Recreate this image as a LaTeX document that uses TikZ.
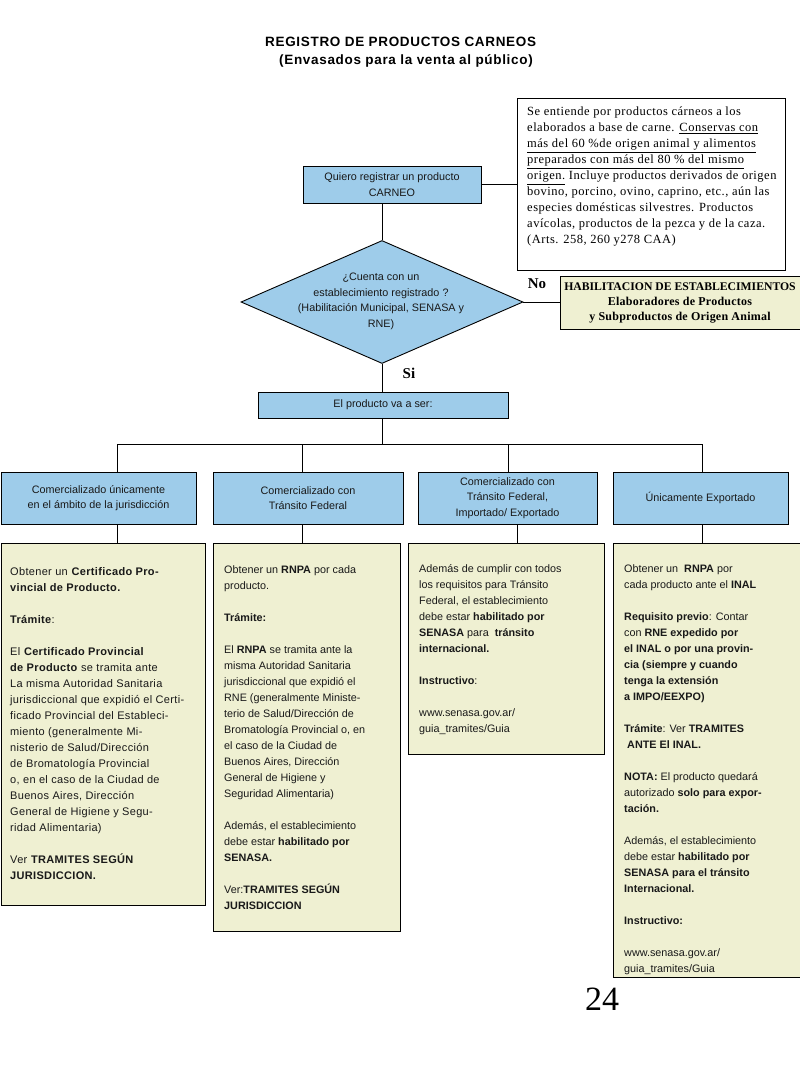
\documentclass[tikz,border=0pt]{standalone}
\usepackage{fontspec}
\setmainfont{Liberation Sans}
\newfontfamily\titlefont{Liberation Sans}[LetterSpace=5]
\newfontfamily\widesans{Liberation Sans}[LetterSpace=3]
\newfontfamily\notefont{Liberation Serif}[LetterSpace=4]
\newfontfamily\habfont{Liberation Serif}[LetterSpace=2]
\newfontfamily\serifb{Liberation Serif}
\usetikzlibrary{shapes.geometric}
\definecolor{boxblue}{RGB}{158,204,234}
\definecolor{boxyellow}{RGB}{239,240,210}
\definecolor{ink}{RGB}{25,25,25}
\begin{document}
\begin{tikzpicture}[x=1pt,y=-1pt,
  line/.style={draw=black, line width=0.9pt},
  bluebox/.style={draw=black, line width=0.9pt, fill=boxblue, inner sep=0pt, align=center, text=ink, font=\fontsize{10.8}{15.5}\selectfont},
  yelbox/.style={draw=black, line width=0.9pt, fill=boxyellow, inner sep=0pt, anchor=north west},
  ytext/.style={anchor=north west, inner sep=0pt, align=left, text=ink, font=\fontsize{10.8}{16}\selectfont},
  lbl/.style={inner sep=0pt, font=\serifb\bfseries\fontsize{15}{15}\selectfont},
]
\useasboundingbox (0,0) rectangle (800,1066);

% title
\node[anchor=north west, inner sep=0pt, align=left, font=\titlefont\fontsize{13.5}{18}\selectfont\bfseries] (title) at (265,37)
  {REGISTRO DE PRODUCTOS CARNEOS\\\hspace*{14pt}(Envasados para la venta al público)};

% note box
\node[draw=black, line width=0.9pt, fill=white, minimum width=268pt, minimum height=172pt, inner sep=0pt] (note) at (651,184) {};
\node[anchor=north west, inner sep=0pt, align=left, font=\notefont\fontsize{12.5}{16}\selectfont] (notetext) at (527,107)
  {Se entiende por productos cárneos  a los\\
   elaborados a base de carne. \underline{Conservas con}\\
   \underline{más del 60 \%de origen animal y alimentos}\\
   \underline{preparados con más del 80 \% del mismo}\\
   \underline{origen.} Incluye productos derivados de origen\\
   bovino,  porcino, ovino, caprino, etc., aún las\\
   especies domésticas silvestres. Productos\\
   avícolas, productos de la pezca y de la caza.\\
   (Arts. 258, 260  y278 CAA)};

% start box
\node[bluebox, minimum width=178pt, minimum height=37pt] (quiero) at (392,184.5) {Quiero registrar un producto\\CARNEO};
\draw[line] (quiero.east) -- (quiero.east -| note.west);

% decision
\node[diamond, draw=black, line width=0.9pt, fill=boxblue, minimum width=282pt, minimum height=123pt, inner sep=0pt] (q) at (382,302) {};
\node[align=center, inner sep=0pt, text=ink, font=\fontsize{10.8}{15.6}\selectfont] (qtext) at (381,301.5)
  {¿Cuenta con un\\establecimiento registrado ?\\(Habilitación Municipal, SENASA y\\RNE)};
\draw[line] (quiero.south -| q.north) -- (q.north);

% habilitacion
\node[draw=black, line width=0.9pt, fill=boxyellow, minimum width=250pt, minimum height=53pt, inner sep=0pt] (hab) at (685,302.5) {};
\node[align=center, inner sep=0pt, font=\habfont\bfseries\fontsize{12}{15}\selectfont] (habtext) at (680,302.5)
  {{\serifb\bfseries\fontsize{11.7}{15}\selectfont HABILITACION DE ESTABLECIMIENTOS}\\Elaboradores de Productos\\y Subproductos de Origen Animal};
\draw[line] (q.east) -- (q.east -| hab.west);
\node[lbl] (nolab) at (537,284) {No};

% el producto
\node[bluebox, minimum width=250pt, minimum height=26pt] (elprod) at (383,405) {El producto va a ser:};
\draw[line] (q.south) -- (q.south |- elprod.north);
\node[lbl] (silab) at (409,373) {Si};

% bus
\coordinate (bus) at (382,444);
\coordinate (d1) at (117,444);
\coordinate (d2) at (302,444);
\coordinate (d3) at (508,444);
\coordinate (d4) at (702,444);
\draw[line] (elprod.south -| bus) -- (bus);
\draw[line] (d1) -- (d4);

% blue boxes
\node[bluebox, minimum width=195pt, minimum height=52pt] (b1) at (98.5,498) {Comercializado únicamente\\en el ámbito de la jurisdicción};
\node[bluebox, minimum width=190pt, minimum height=52pt] (b2) at (308,498) {Comercializado con\\Tránsito Federal};
\node[bluebox, minimum width=179pt, minimum height=52pt] (b3) at (507.5,498) {Comercializado con\\Tránsito Federal,\\Importado/ Exportado};
\node[bluebox, minimum width=175pt, minimum height=52pt] (b4) at (700.5,498) {Únicamente Exportado};
\draw[line] (d1) -- (d1 |- b1.north);
\draw[line] (d2) -- (d2 |- b2.north);
\draw[line] (d3) -- (d3 |- b3.north);
\draw[line] (d4) -- (d4 |- b4.north);

% yellow boxes
\node[yelbox, minimum width=204pt, minimum height=362pt] (y1) at (1,543) {};
\node[yelbox, minimum width=187pt, minimum height=388pt] (y2) at (213,543) {};
\node[yelbox, minimum width=196pt, minimum height=211pt] (y3) at (408,543) {};
\node[yelbox, minimum width=200pt, minimum height=434pt] (y4) at (613,543) {};
\draw[line] (b1.south -| d1) -- (y1.north -| d1);
\draw[line] (b2.south -| d2) -- (y2.north -| d2);
\draw[line] ([xshift=9.5pt]b3.south) -- ([xshift=9.5pt]b3.south |- y3.north);
\draw[line] (b4.south -| d4) -- (y4.north -| d4);

\node[ytext, font=\widesans\fontsize{11}{16}\selectfont] (t1) at (10,567) {Obtener un \textbf{Certificado Pro-}\\
\textbf{vincial de Producto.}\\[16pt]
\textbf{Trámite}:\\[16pt]
El \textbf{Certificado Provincial}\\
\textbf{de Producto} se tramita ante\\
La misma Autoridad Sanitaria\\
jurisdiccional que expidió el Certi-\\
ficado Provincial del Estableci-\\
miento (generalmente Mi-\\
nisterio de Salud/Dirección\\
de Bromatología Provincial\\
o, en el caso de la Ciudad de\\
Buenos Aires, Dirección\\
General de Higiene y Segu-\\
ridad Alimentaria)\\[16pt]
Ver \textbf{TRAMITES SEGÚN}\\
\textbf{JURISDICCION.}};

\node[ytext] (t2) at (224,565) {Obtener un \textbf{RNPA} por cada\\
producto.\\[16pt]
\textbf{Trámite:}\\[16pt]
El \textbf{RNPA} se tramita ante la\\
misma Autoridad Sanitaria\\
jurisdiccional que expidió el\\
RNE (generalmente Ministe-\\
terio de Salud/Dirección de\\
Bromatología Provincial o, en\\
el caso de la Ciudad de\\
Buenos Aires, Dirección\\
General de Higiene y\\
Seguridad Alimentaria)\\[16pt]
Además, el establecimiento\\
debe estar \textbf{habilitado por}\\
\textbf{SENASA.}\\[16pt]
Ver:\textbf{TRAMITES SEGÚN}\\
\textbf{JURISDICCION}};

\node[ytext] (t3) at (419,564) {Además de cumplir con todos\\
los requisitos para Tránsito\\
Federal, el establecimiento\\
debe estar \textbf{habilitado por}\\
\textbf{SENASA} para \ \textbf{tránsito}\\
\textbf{internacional.}\\[16pt]
\textbf{Instructivo}:\\[16pt]
www.senasa.gov.ar/\\
guia\_tramites/Guia};

\node[ytext] (t4) at (624,564) {Obtener un \ \textbf{RNPA} por\\
cada producto ante el \textbf{INAL}\\[16pt]
\textbf{Requisito previo}: Contar\\
con \textbf{RNE expedido por}\\
\textbf{el INAL o por una provin-}\\
\textbf{cia (siempre y cuando}\\
\textbf{tenga la extensión}\\
\textbf{a IMPO/EEXPO)}\\[16pt]
\textbf{Trámite}: Ver \textbf{TRAMITES}\\
\textbf{\ ANTE El INAL.}\\[16pt]
\textbf{NOTA:} El producto quedará\\
autorizado \textbf{solo para expor-}\\
\textbf{tación.}\\[16pt]
Además, el establecimiento\\
debe estar \textbf{habilitado por}\\
\textbf{SENASA para el tránsito}\\
\textbf{Internacional.}\\[16pt]
\textbf{Instructivo:}\\[16pt]
www.senasa.gov.ar/\\
guia\_tramites/Guia};

% page number
\node[inner sep=0pt, font=\serifb\fontsize{34}{34}\selectfont] (pagenum) at (602,999) {24};
\end{tikzpicture}
\end{document}
